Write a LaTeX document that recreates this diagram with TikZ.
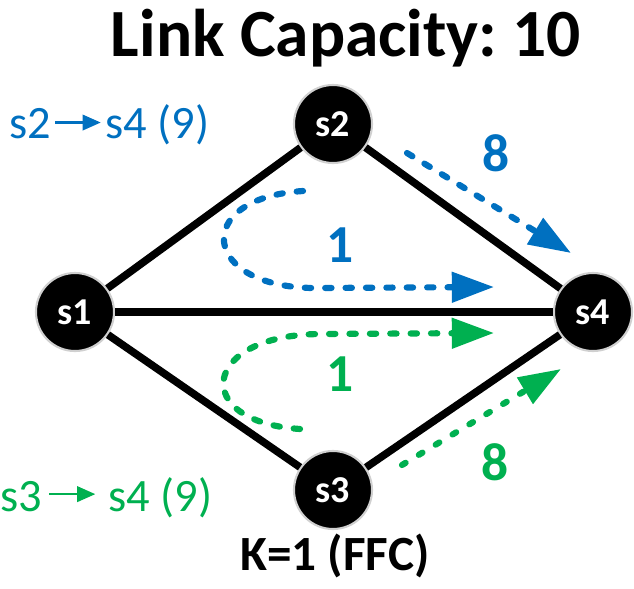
\documentclass[tikz,border=0pt]{standalone}
\usepackage{fontspec}
\setmainfont{Carlito}
\usepackage{tikz}
\usetikzlibrary{arrows.meta, positioning}
\definecolor{flowblue}{HTML}{0070C0}
\definecolor{flowgreen}{HTML}{00B050}
\definecolor{ringgray}{HTML}{D0D0D0}
\tikzset{
  switch/.style={
    circle, fill=black, draw=ringgray, line width=1.5pt,
    minimum size=1.95cm, inner sep=0pt,
    text=white, font=\fontsize{27}{30}\selectfont\bfseries,
  },
  link/.style={line width=5.4pt, black},
  flow/.style={
    line width=4.4pt, line cap=round, dash pattern=on 4.5pt off 10pt,
    -{Triangle[length=30pt, width=21pt]},
  },
  linkcap/.style={font=\fontsize{38}{42}\selectfont\bfseries},
  demand/.style={
    inner sep=0pt, anchor=base west,
    font=\fontsize{33}{36}\selectfont,
  },
  pointer/.style={line width=1.8pt, -{Triangle[length=13pt, width=11pt]}},
  title/.style={font=\fontsize{48}{52}\selectfont\bfseries},
}

\begin{document}
\frenchspacing
\begin{tikzpicture}[x=0.025cm, y=-0.025cm]
  \useasboundingbox (0,0) rectangle (634,588);

  \node[title] (head) at (346,38) {Link Capacity: 10};
  \node[title, font=\fontsize{35}{38}\selectfont\bfseries] (foot) at (335,556) {K=1 (FFC)};

  \node[switch] (s1) at (75,312) {s1};
  \node[switch] (s2) at (333,124) {s2};
  \node[switch] (s3) at (333,490) {s3};
  \node[switch] (s4) at (593,312) {s4};

  \draw[link] (s1) -- (s2);
  \draw[link] (s1) -- (s3);
  \draw[link] (s1) -- (s4);
  \draw[link] (s2) -- (s4);
  \draw[link] (s3) -- (s4);

  % demands
  \node[demand, text=flowblue] (d2) at (9,138) {s2};
  \node[demand, text=flowblue] (d24) at (105,138) {s4 (9)};
  \draw[pointer, flowblue] ([xshift=3pt, yshift=11pt]d2.base east) -- ([xshift=-3pt, yshift=11pt]d24.base west);
  \node[demand, text=flowgreen] (d3) at (0,511) {s3};
  \node[demand, text=flowgreen] (d34) at (108,511) {s4 (9)};
  \draw[pointer, flowgreen] ([xshift=5pt, yshift=12pt]d3.base east) -- ([xshift=-9pt, yshift=12pt]d34.base west);

  % flows
  \coordinate (b1) at (407,153);
  \coordinate (b2) at (571,253);
  \coordinate (b3) at (303,191);
  \coordinate (b4) at (494,287);
  \coordinate (g1) at (300,429);
  \coordinate (g2) at (494,333);
  \coordinate (g3) at (402,465);
  \coordinate (g4) at (561,369);

  \draw[flow, flowblue] (b1) -- (b2);
  \draw[flow, flowblue] (b3) .. controls (190,198) and (200,290) .. (320,288) -- (b4);
  \draw[flow, flowgreen] (g1) .. controls (190,422) and (200,335) .. (320,334) -- (g2);
  \draw[flow, flowgreen, dash pattern=on 3pt off 11pt] (g3) -- (g4);

  \node[linkcap, text=flowblue] (c8b) at (496,153) {8};
  \node[linkcap, text=flowblue] (c1b) at (340,245) {1};
  \node[linkcap, text=flowgreen] (c1g) at (340,374) {1};
  \node[linkcap, text=flowgreen] (c8g) at (495,462) {8};

\end{tikzpicture}
\end{document}
